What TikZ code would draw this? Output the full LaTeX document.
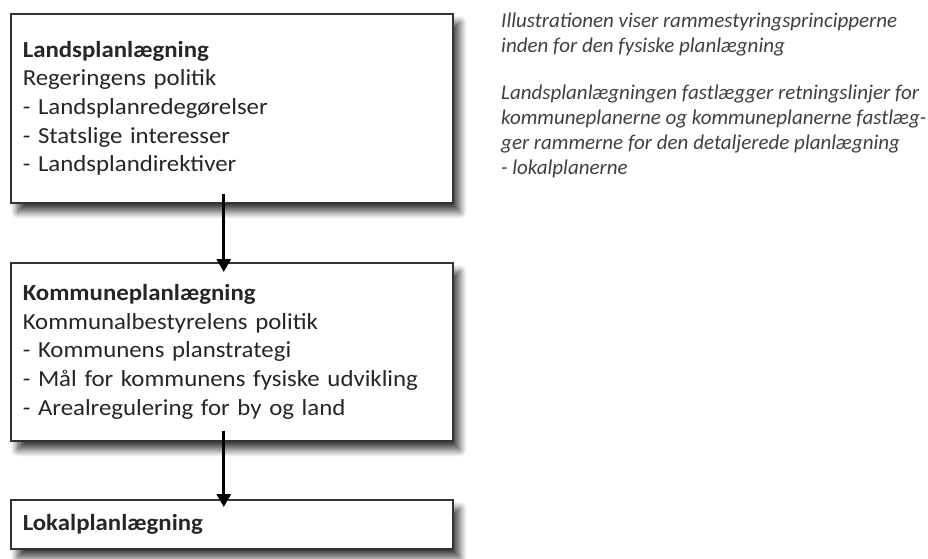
\documentclass[tikz,border=0pt]{standalone}
\usepackage{fontspec}
\setmainfont{Carlito}
\newfontfamily\boxfont{Carlito}[FakeStretch=1.08]
\usetikzlibrary{arrows.meta,calc,shadows.blur}

\tikzset{
  planbox/.style={draw=black!80, line width=1.5pt, fill=white, anchor=north west,
    minimum width=442pt, text width=418pt, inner xsep=12pt, inner ysep=0pt, align=left,
    text=black!85, font=\boxfont\fontsize{23}{28.7}\selectfont,
    blur shadow={shadow xshift=7pt, shadow yshift=-9pt, shadow blur radius=7pt,
      shadow blur steps=12, shadow opacity=75}},
  flow/.style={line width=3pt, -{Triangle[length=13pt,width=14pt]}},
  note/.style={anchor=north west, align=left, inner sep=0pt, text=black!75,
    font=\itshape\fontsize{21}{25}\selectfont}
}

\begin{document}
\begin{tikzpicture}[x=1pt,y=-1pt]
  \useasboundingbox (0,0) rectangle (928,558);

  \node[planbox, minimum height=189pt] (N1) at (10,13)
    {\textbf{Landsplanlægning}\\ Regeringens politik\\ - Landsplanredegørelser\\
     - Statslige interesser\\ - Landsplandirektiver};
  \node[planbox, minimum height=178pt] (N2) at (10,262)
    {\textbf{Kommuneplanlægning}\\ Kommunalbestyrelens politik\\ - Kommunens planstrategi\\
     - Mål for kommunens fysiske udvikling\\ - Arealregulering for by og land};
  \node[planbox, minimum height=49pt] (N3) at (10,499) {\textbf{Lokalplanlægning}};

  \node[note] (R1) at (501,13)
    {Illustrationen viser rammestyringsprincipperne\\ inden for den fysiske planlægning};
  \node[note] (R2) at (501,85)
    {Landsplanlægningen fastlægger retningslinjer for\\
     kommuneplanerne og kommuneplanerne fastlæg-\\
     ger rammerne for den detaljerede planlægning\\
     - lokalplanerne};

  \draw[flow] ($(N1.south)+(-8,-10)$) -- ($(N2.north)+(-8,10)$);
  \draw[flow] ($(N2.south)+(-8,-11)$) -- ($(N3.north)+(-8,8)$);
\end{tikzpicture}
\end{document}
